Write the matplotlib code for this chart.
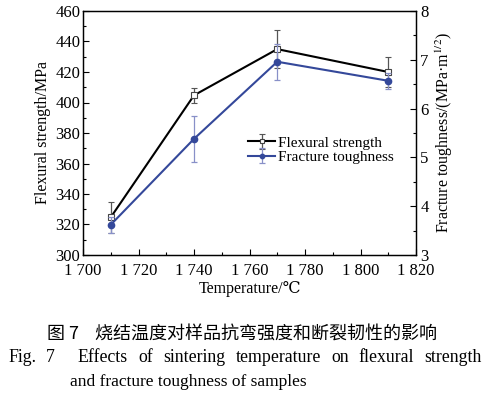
import numpy as np
import matplotlib
matplotlib.use('Agg')
import matplotlib.pyplot as plt
from matplotlib.ticker import MultipleLocator, FuncFormatter

plt.rcParams['font.family'] = ['Liberation Serif', 'DejaVu Serif', 'Noto Sans CJK SC']
plt.rcParams['mathtext.fontset'] = 'stix'

# data
temp = [1710, 1740, 1770, 1810]
strength = [324.7, 404.7, 435.0, 420.0]
strength_err = [10.0, 5.0, 12.5, 10.0]
tough = [3.62, 5.38, 6.96, 6.57]
tough_err = [0.16, 0.47, 0.37, 0.16]

blue = '#34489a'

fig = plt.figure(figsize=(4.84, 3.93), dpi=100)
ax = fig.add_axes([83/484, 1-255/393, (416-83)/484, (255-11)/393])
ax2 = ax.twinx()

ax.errorbar(temp, strength, yerr=strength_err, color='black', lw=1.5,
            marker='s', ms=4.5, mfc='white', mec='#444444', mew=0.8,
            ecolor='#555555', elinewidth=0.9, capsize=2.5, capthick=0.9,
            label='Flexural strength', zorder=3)
ax2.errorbar(temp, tough, yerr=tough_err, color=blue, lw=1.5,
             marker='o', ms=4.5, mfc=blue, mec=blue,
             ecolor='#8890c8', elinewidth=0.9, capsize=2.5, capthick=0.9,
             label='Fracture toughness', zorder=3)

ax.set_xlim(1700, 1820)
ax.set_ylim(300, 460)
ax2.set_ylim(3, 8)
ax.xaxis.set_major_locator(MultipleLocator(20))
ax.xaxis.set_minor_locator(MultipleLocator(10))
ax.xaxis.set_major_formatter(FuncFormatter(lambda v, p: '%d %03d' % (int(v) // 1000, int(v) % 1000)))
ax.yaxis.set_major_locator(MultipleLocator(20))
ax.yaxis.set_minor_locator(MultipleLocator(10))
ax2.yaxis.set_major_locator(MultipleLocator(1))
ax2.yaxis.set_minor_locator(MultipleLocator(0.5))

for a in (ax, ax2):
    a.tick_params(which='both', direction='in', labelsize=12, width=0.8)
    a.tick_params(which='major', length=4)
    a.tick_params(which='minor', length=2.5)
    for s in a.spines.values():
        s.set_linewidth(0.9)
ax.tick_params(axis='x', pad=6)
ax.tick_params(axis='y', pad=2)
ax2.tick_params(axis='y', pad=3)

ax.set_xlabel('Temperature/℃', fontsize=11.5, labelpad=1)
ax.set_ylabel('Flexural strength/MPa', fontsize=11.5, labelpad=3)
ax2.set_ylabel('Fracture toughness/(MPa·m$^{1/2}$)', fontsize=11.5, labelpad=4)

h1, l1 = ax.get_legend_handles_labels()
h2, l2 = ax2.get_legend_handles_labels()
ax2.legend(h1 + h2, l1 + l2, loc='center left', bbox_to_anchor=(0.495, 0.43),
           frameon=False, fontsize=11, handlelength=1.8, handletextpad=0.2,
           borderaxespad=0, borderpad=0, labelspacing=0.05, markerscale=0.7)

fig.text(0.5, 1-335/393, '图 7    烧结温度对样品抗弯强度和断裂韧性的影响',
         ha='center', va='center', fontsize=13, family=['Noto Sans CJK SC', 'DejaVu Sans'])

# justified first English caption line
words = ['Fig.', '7', 'Effects', 'of', 'sintering', 'temperature', 'on', 'flexural', 'strength']
gaps = [1, 2.2, 1, 1, 1, 1, 1, 1]
x0, x1, yc = 8, 482, 1-357/393
texts = [fig.text(0, yc, w, ha='left', va='center', fontsize=12.8) for w in words]
r = fig.canvas.get_renderer()
widths = [t.get_window_extent(r).width for t in texts]
unit = (x1 - x0 - sum(widths)) / sum(gaps)
x = x0
for i, t in enumerate(texts):
    t.set_x(x / 484)
    x += widths[i] + (unit * gaps[i] if i < len(gaps) else 0)

fig.text(70/484, 1-382/393, 'and fracture toughness of samples',
         ha='left', va='center', fontsize=12.5)

fig.savefig('out.png', dpi=100)
